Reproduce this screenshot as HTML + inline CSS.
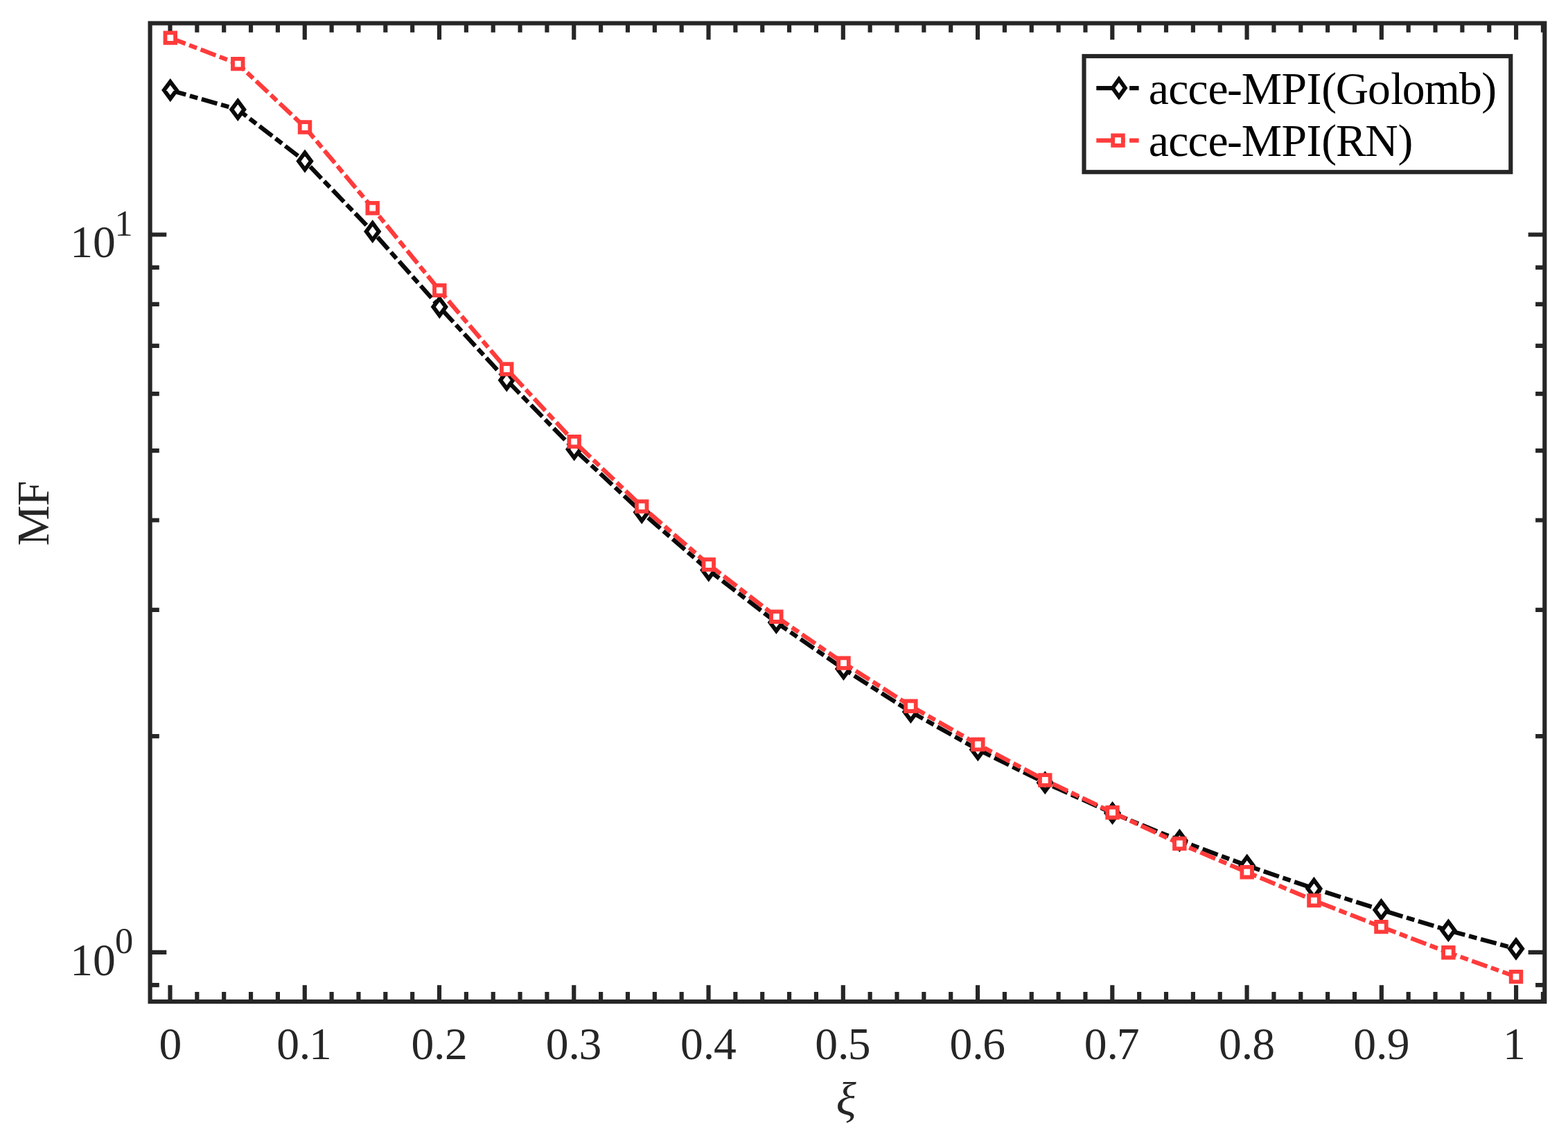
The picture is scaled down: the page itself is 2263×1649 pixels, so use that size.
<!DOCTYPE html>
<html lang="en">
<head>
<meta charset="utf-8">
<title>MF vs ξ</title>
<style>
html,body{margin:0;padding:0;background:#fff;}
body{width:2263px;height:1649px;overflow:hidden;}
svg{display:block;}
</style>
</head>
<body>
<svg width="2263" height="1649" viewBox="0 0 2263 1649">
<rect width="2263" height="1649" fill="#fff"/>
<path d="M245.5 1445v-23.7M245.5 33.5v23.7M284.35 1445v-13.9M284.35 33.5v13.2M323.2 1445v-13.9M323.2 33.5v13.2M362.06 1445v-13.9M362.06 33.5v13.2M400.91 1445v-13.9M400.91 33.5v13.2M439.76 1445v-23.7M439.76 33.5v23.7M478.61 1445v-13.9M478.61 33.5v13.2M517.46 1445v-13.9M517.46 33.5v13.2M556.32 1445v-13.9M556.32 33.5v13.2M595.17 1445v-13.9M595.17 33.5v13.2M634.02 1445v-23.7M634.02 33.5v23.7M672.87 1445v-13.9M672.87 33.5v13.2M711.72 1445v-13.9M711.72 33.5v13.2M750.58 1445v-13.9M750.58 33.5v13.2M789.43 1445v-13.9M789.43 33.5v13.2M828.28 1445v-23.7M828.28 33.5v23.7M867.13 1445v-13.9M867.13 33.5v13.2M905.98 1445v-13.9M905.98 33.5v13.2M944.84 1445v-13.9M944.84 33.5v13.2M983.69 1445v-13.9M983.69 33.5v13.2M1022.54 1445v-23.7M1022.54 33.5v23.7M1061.39 1445v-13.9M1061.39 33.5v13.2M1100.24 1445v-13.9M1100.24 33.5v13.2M1139.1 1445v-13.9M1139.1 33.5v13.2M1177.95 1445v-13.9M1177.95 33.5v13.2M1216.8 1445v-23.7M1216.8 33.5v23.7M1255.65 1445v-13.9M1255.65 33.5v13.2M1294.5 1445v-13.9M1294.5 33.5v13.2M1333.36 1445v-13.9M1333.36 33.5v13.2M1372.21 1445v-13.9M1372.21 33.5v13.2M1411.06 1445v-23.7M1411.06 33.5v23.7M1449.91 1445v-13.9M1449.91 33.5v13.2M1488.76 1445v-13.9M1488.76 33.5v13.2M1527.62 1445v-13.9M1527.62 33.5v13.2M1566.47 1445v-13.9M1566.47 33.5v13.2M1605.32 1445v-23.7M1605.32 33.5v23.7M1644.17 1445v-13.9M1644.17 33.5v13.2M1683.02 1445v-13.9M1683.02 33.5v13.2M1721.88 1445v-13.9M1721.88 33.5v13.2M1760.73 1445v-13.9M1760.73 33.5v13.2M1799.58 1445v-23.7M1799.58 33.5v23.7M1838.43 1445v-13.9M1838.43 33.5v13.2M1877.28 1445v-13.9M1877.28 33.5v13.2M1916.14 1445v-13.9M1916.14 33.5v13.2M1954.99 1445v-13.9M1954.99 33.5v13.2M1993.84 1445v-23.7M1993.84 33.5v23.7M2032.69 1445v-13.9M2032.69 33.5v13.2M2071.54 1445v-13.9M2071.54 33.5v13.2M2110.4 1445v-13.9M2110.4 33.5v13.2M2149.25 1445v-13.9M2149.25 33.5v13.2M2188.1 1445v-23.7M2188.1 33.5v23.7M2226.95 1445v-13.9M2226.95 33.5v13.2M216.6 1421.17h13.2M2229.3 1421.17h-13.2M216.6 1373.8h23.7M2229.3 1373.8h-23.7M216.6 1062.14h13.2M2229.3 1062.14h-13.2M216.6 879.84h13.2M2229.3 879.84h-13.2M216.6 750.49h13.2M2229.3 750.49h-13.2M216.6 650.16h13.2M2229.3 650.16h-13.2M216.6 568.18h13.2M2229.3 568.18h-13.2M216.6 498.87h13.2M2229.3 498.87h-13.2M216.6 438.83h13.2M2229.3 438.83h-13.2M216.6 385.87h13.2M2229.3 385.87h-13.2M216.6 338.5h23.7M2229.3 338.5h-23.7" stroke="#262626" stroke-width="6.15" fill="none"/>
<rect x="216.6" y="33.5" width="2012.7" height="1411.5" fill="none" stroke="#262626" stroke-width="6.15"/>
<polyline points="245.8,130.1 343.28,158 440.01,232.5 537.69,334 634.32,442.85 731.25,548.4 828.68,648.2 926.21,739.1 1022.74,822.6 1120.37,897.9 1217.5,965 1314.43,1026.9 1411.36,1081.4 1508.29,1129.3 1605.52,1173 1702.35,1212.5 1799.68,1248.8 1896.41,1281.9 1993.44,1312.7 2090.37,1342.3 2188,1368.8" fill="none" stroke="#0a0a0a" stroke-width="6.25" stroke-dasharray="23.4 5.85 11.8 5.85" stroke-linejoin="round"/>
<path d="M245.8 117.9L254.85 130.1L245.8 142.3L236.75 130.1ZM343.28 145.8L352.33 158L343.28 170.2L334.23 158ZM440.01 220.3L449.06 232.5L440.01 244.7L430.96 232.5ZM537.69 321.8L546.74 334L537.69 346.2L528.64 334ZM634.32 430.65L643.37 442.85L634.32 455.05L625.27 442.85ZM731.25 536.2L740.3 548.4L731.25 560.6L722.2 548.4ZM828.68 636L837.73 648.2L828.68 660.4L819.63 648.2ZM926.21 726.9L935.26 739.1L926.21 751.3L917.16 739.1ZM1022.74 810.4L1031.79 822.6L1022.74 834.8L1013.69 822.6ZM1120.37 885.7L1129.42 897.9L1120.37 910.1L1111.32 897.9ZM1217.5 952.8L1226.55 965L1217.5 977.2L1208.45 965ZM1314.43 1014.7L1323.48 1026.9L1314.43 1039.1L1305.38 1026.9ZM1411.36 1069.2L1420.41 1081.4L1411.36 1093.6L1402.31 1081.4ZM1508.29 1117.1L1517.34 1129.3L1508.29 1141.5L1499.24 1129.3ZM1605.52 1160.8L1614.57 1173L1605.52 1185.2L1596.47 1173ZM1702.35 1200.3L1711.4 1212.5L1702.35 1224.7L1693.3 1212.5ZM1799.68 1236.6L1808.73 1248.8L1799.68 1261L1790.63 1248.8ZM1896.41 1269.7L1905.46 1281.9L1896.41 1294.1L1887.36 1281.9ZM1993.44 1300.5L2002.49 1312.7L1993.44 1324.9L1984.39 1312.7ZM2090.37 1330.1L2099.42 1342.3L2090.37 1354.5L2081.32 1342.3ZM2188 1356.6L2197.05 1368.8L2188 1381L2178.95 1368.8Z" fill="#fff" stroke="#0a0a0a" stroke-width="5.8" stroke-linejoin="miter"/>
<polyline points="245.8,54.6 343.28,92.1 440.01,183.5 537.69,300.2 634.32,418.9 731.25,532.5 828.68,637.1 926.21,730.6 1022.74,814.5 1120.37,889.7 1217.5,956.6 1314.43,1018.7 1411.36,1074 1508.29,1125.5 1605.52,1172.2 1702.35,1217 1799.68,1258.2 1896.41,1299.1 1993.44,1337.1 2090.37,1374.2 2188,1409.1" fill="none" stroke="#ff3b3b" stroke-width="6.25" stroke-dasharray="23.4 5.85 11.8 5.85" stroke-linejoin="round"/>
<path d="M238.5 47.3h14.6v14.6h-14.6ZM335.98 84.8h14.6v14.6h-14.6ZM432.71 176.2h14.6v14.6h-14.6ZM530.39 292.9h14.6v14.6h-14.6ZM627.02 411.6h14.6v14.6h-14.6ZM723.95 525.2h14.6v14.6h-14.6ZM821.38 629.8h14.6v14.6h-14.6ZM918.91 723.3h14.6v14.6h-14.6ZM1015.44 807.2h14.6v14.6h-14.6ZM1113.07 882.4h14.6v14.6h-14.6ZM1210.2 949.3h14.6v14.6h-14.6ZM1307.13 1011.4h14.6v14.6h-14.6ZM1404.06 1066.7h14.6v14.6h-14.6ZM1500.99 1118.2h14.6v14.6h-14.6ZM1598.22 1164.9h14.6v14.6h-14.6ZM1695.05 1209.7h14.6v14.6h-14.6ZM1792.38 1250.9h14.6v14.6h-14.6ZM1889.11 1291.8h14.6v14.6h-14.6ZM1986.14 1329.8h14.6v14.6h-14.6ZM2083.07 1366.9h14.6v14.6h-14.6ZM2180.7 1401.8h14.6v14.6h-14.6Z" fill="#fff" stroke="#ff3b3b" stroke-width="5.8" stroke-linejoin="miter"/>
<rect x="1564.5" y="81" width="615.8" height="167.2" fill="#fff" stroke="#262626" stroke-width="6.15"/>
<path d="M1582.3 127.1H1606M1611.6 127.1H1623.6M1630.1 127.1H1643.6" stroke="#0a0a0a" stroke-width="6.25" fill="none"/>
<path d="M1614.9 114.3L1623.9 126.9L1614.9 139.5L1605.9 126.9Z" fill="#fff" stroke="#0a0a0a" stroke-width="5.8"/>
<path d="M1582.3 202.6H1606M1611.6 202.6H1623.6M1630.1 202.6H1643.6" stroke="#ff3b3b" stroke-width="6.25" fill="none"/>
<path d="M1606.2 195.3h14.6v14.6h-14.6Z" fill="#fff" stroke="#ff3b3b" stroke-width="5.8"/>
<g font-family="'Liberation Serif', 'Times New Roman', Times, serif" font-size="65.625" fill="#000">
<text x="1657.63 1686.15 1714.45 1743.54 1770.99 1791.67 1849.62 1885.59 1907.19 1927.83 1973.99 2007.23 2023.64 2055.75 2105.89 2138.31" y="149.9">acce-MPI(Golomb)</text>
<text x="1657.63 1686.15 1714.45 1743.54 1770.99 1791.67 1849.62 1885.59 1907.19 1928.02 1970.21 2017.41" y="224.9">acce-MPI(RN)</text>
</g>
<g font-family="'Liberation Serif', 'Times New Roman', Times, serif" font-size="65.625" fill="#262626">
<g>
<text x="229.59" y="1527.9">0</text>
<text x="399.15 431.86 445.9" y="1527.9">0.1</text>
<text x="593.41 626.12 641.98" y="1527.9">0.2</text>
<text x="787.67 820.38 835.59" y="1527.9">0.3</text>
<text x="981.93 1014.64 1030.01" y="1527.9">0.4</text>
<text x="1176.19 1208.9 1223.77" y="1527.9">0.5</text>
<text x="1370.45 1403.16 1418.22" y="1527.9">0.6</text>
<text x="1564.71 1597.42 1611.7" y="1527.9">0.7</text>
<text x="1758.97 1791.68 1807.17" y="1527.9">0.8</text>
<text x="1953.23 1985.94 2001.72" y="1527.9">0.9</text>
<text x="2169" y="1527.9">1</text>
<text x="1221.3" y="1608.6" font-size="67.5" font-style="italic" text-anchor="middle">ξ</text>
<text transform="translate(70 741) rotate(-90)" x="-46.6 10.9" y="0">MF</text>
</g>
<text x="101.3 134" y="371">10</text><text x="165.6" y="339.8" font-size="52.5">1</text>
<text x="101.3 134" y="1406.5">10</text><text x="166.1" y="1375.3" font-size="52.5">0</text>
</g>
</svg>
</body>
</html>
